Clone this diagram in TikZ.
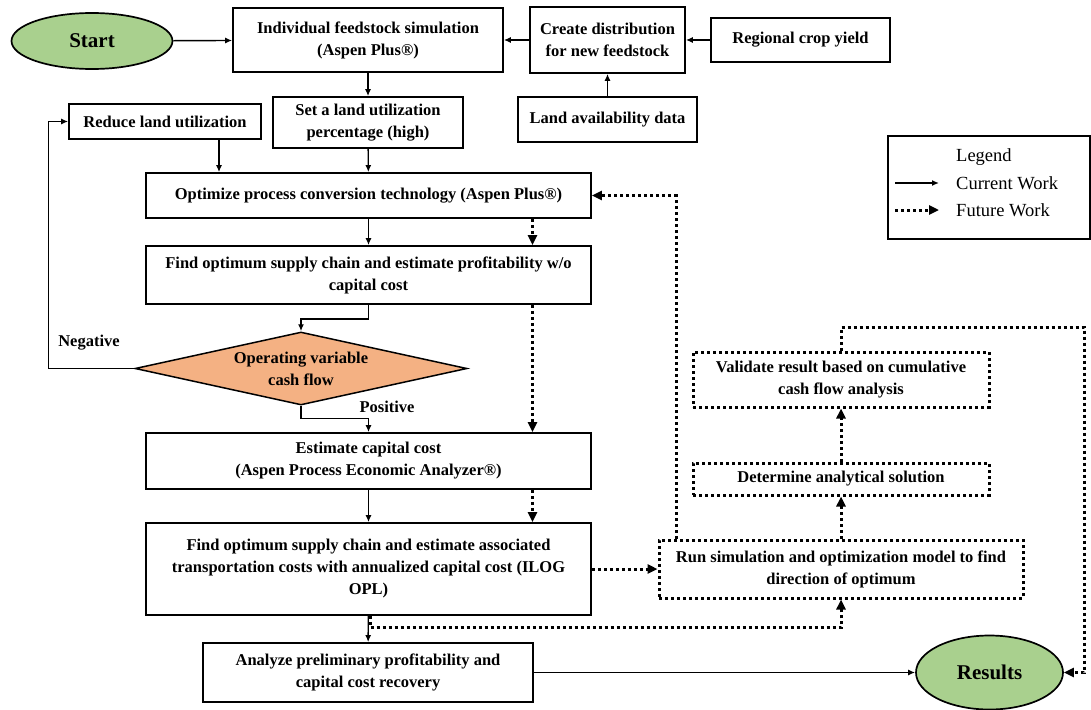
\documentclass[tikz,border=0pt]{standalone}
\usepackage{fontspec}
\setmainfont{Liberation Serif}
\usepackage{tikz}
\usetikzlibrary{positioning, shapes.geometric}
\usetikzlibrary{arrows.meta}

\definecolor{termgreen}{HTML}{A9D08E}
\definecolor{decorange}{HTML}{F4B183}

\begin{document}
\begin{tikzpicture}[
    x=1pt, y=-1pt,
    box/.style={rectangle, draw=black, line width=1.7pt, fill=white, inner sep=0pt, align=center, font=\bfseries\fontsize{16.5}{22}\selectfont},
    futurebox/.style={box, line width=3pt, dash pattern=on 3pt off 3pt},
    terminal/.style={ellipse, draw=black, line width=1.7pt, fill=termgreen, inner sep=0pt, font=\bfseries\fontsize{21}{24}\selectfont},
    decide/.style={diamond, draw=black, line width=1.5pt, fill=decorange, inner sep=0pt, aspect=4.5, align=center, font=\bfseries\fontsize{16.5}{22}\selectfont},
    flow/.style={line width=1.4pt, -{Latex[length=7pt,width=6pt]}},
    future/.style={line width=3pt, dash pattern=on 3pt off 3pt, -{Triangle[length=10pt,width=9pt]}},
    lbl/.style={inner sep=0pt, font=\bfseries\fontsize{16.5}{19}\selectfont},
    legendtext/.style={anchor=west, inner sep=0pt, font=\fontsize{18.5}{20}\selectfont}
]
    \useasboundingbox (0,0) rectangle (1091,709);

    % --- Top row: start and feedstock data ---
    \node[terminal, minimum width=161pt, minimum height=56pt] (start) at (92,41) {Start};
    \node[box, minimum width=270pt, minimum height=64pt] (indiv) at (368,40) {Individual feedstock simulation\\(Aspen Plus®)};
    \node[box, minimum width=155pt, minimum height=66pt] (createdist) at (607.5,40) {Create distribution\\for new feedstock};
    \node[box, minimum width=179pt, minimum height=44pt] (cropyield) at (800.5,40) {Regional crop yield};
    \node[box, minimum width=179pt, minimum height=45pt] (landdata) at (607.5,119.5) {Land availability data};

    % --- Land utilization ---
    \node[box, minimum width=190pt, minimum height=51pt] (setland) at (368,122.5) {Set a land utilization\\percentage (high)};
    \node[box, minimum width=192pt, minimum height=35pt] (reduceland) at (165,121.5) {Reduce land utilization};

    % --- Main column (current work) ---
    \node[box, minimum width=445pt, minimum height=45pt] (optproc) at (368.5,195.5) {Optimize process conversion technology (Aspen Plus®)};
    \node[box, minimum width=445pt, minimum height=58pt] (supply1) at (368.5,275) {Find optimum supply chain and estimate profitability w/o\\capital cost};
    \node[decide, minimum width=332pt, minimum height=73pt] (decision) at (301,368.5) {Operating variable\\cash flow};
    \node[box, minimum width=445pt, minimum height=56pt] (capcost) at (368.5,461) {Estimate capital cost\\(Aspen Process Economic Analyzer®)};
    \node[box, minimum width=445pt, minimum height=92pt] (supply2) at (368.5,569) {Find optimum supply chain and estimate associated\\transportation costs with annualized capital cost (ILOG\\OPL)};
    \node[box, minimum width=330pt, minimum height=59pt] (analyze) at (368,672.5) {Analyze preliminary profitability and\\capital cost recovery};
    \node[terminal, minimum width=147pt, minimum height=74pt] (results) at (989.5,672.5) {Results};

    % --- Future work ---
    \node[futurebox, minimum width=364pt, minimum height=58pt] (runsim) at (841,569) {Run simulation and optimization model to find\\direction of optimum};
    \node[futurebox, minimum width=296pt, minimum height=32pt] (analytic) at (841,479) {Determine analytical solution};
    \node[futurebox, minimum width=296pt, minimum height=55pt] (validate) at (841,379.5) {Validate result based on cumulative\\cash flow analysis};

    % --- Legend ---
    \node[draw=black, line width=1.7pt, minimum width=202pt, minimum height=103pt, inner sep=0pt] (legend) at (989,187.5) {};
    \node[legendtext] (legendtitle) at (956,157) {Legend};
    \node[legendtext] (curlabel) at (956,183) {Current Work};
    \node[legendtext] (futlabel) at (956,210) {Future Work};
    \coordinate (curA) at (895,183);
    \coordinate (curB) at (939,183);
    \coordinate (futA) at (895,210);
    \coordinate (futB) at (939,210);
    \draw[flow] (curA) -- (curB);
    \draw[future] (futA) -- (futB);

    % --- Decision labels ---
    \node[lbl] (neglabel) at (89,343) {Negative};
    \node[lbl] (poslabel) at (387,407) {Positive};

    % --- Current work connectors ---
    \draw[flow] (start) -- (indiv);
    \draw[flow] (createdist) -- (indiv);
    \draw[flow] (cropyield) -- (createdist);
    \draw[flow] (landdata) -- (createdist);
    \draw[flow] (indiv) -- (setland);
    \draw[flow] ([xshift=54pt]reduceland.south) -- ([xshift=54pt]reduceland.south |- optproc.north);
    \draw[flow] (setland) -- (optproc);
    \draw[flow] (optproc) -- (supply1);
    \draw[flow] (supply1.south) -- ++(0,14) -| (decision.north);
    \draw[flow] (decision.west) -- ++(-86,0) |- (reduceland.west);
    \draw[flow] (decision.south) -- ++(0,13) -| (capcost.north);
    \draw[flow] (capcost) -- (supply2);
    \draw[flow] (supply2) -- (analyze);
    \draw[flow] (analyze) -- (results);

    % --- Future work connectors ---
    \draw[future] ([xshift=164pt]optproc.south) -- ([xshift=164pt]supply1.north);
    \draw[future] ([xshift=164pt]supply1.south) -- ([xshift=164pt]capcost.north);
    \draw[future] ([xshift=164pt]capcost.south) -- ([xshift=164pt]supply2.north);
    \draw[future] (supply2) -- (runsim);
    \draw[future] ([xshift=2pt]supply2.south) -- ++(0,12) -| (runsim.south);
    \draw[future] (runsim) -- (analytic);
    \draw[future] (analytic) -- (validate);
    \draw[future] ([xshift=-165pt]runsim.north) |- (optproc.east);
    \coordinate (loopcorner) at (1084,327);
    \draw[future] (validate.north) |- (loopcorner) |- (results.east);

\end{tikzpicture}
\end{document}
